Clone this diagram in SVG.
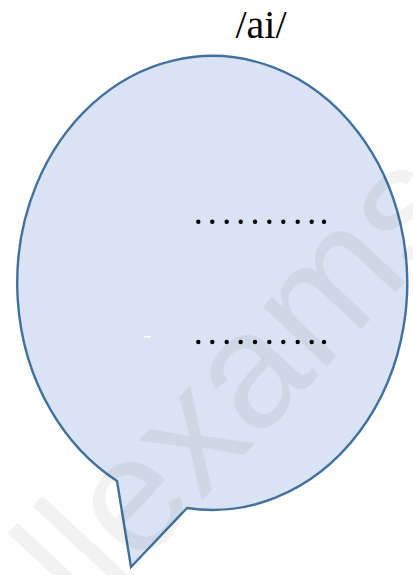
<svg xmlns="http://www.w3.org/2000/svg" width="413" height="575" viewBox="0 0 413 575">
<style>
.bubble{fill:#DAE3F3;stroke:#41719C;stroke-width:2.4;stroke-linejoin:miter}
.dot{fill:#000}
.title{font-family:"Liberation Serif","Times New Roman",serif;font-size:40px;fill:#000}
.wm{font-family:"Liberation Sans",Arial,sans-serif;font-size:165px;fill:#000;fill-opacity:0.05}
</style>
<rect width="413" height="575" fill="#fff"/>
<g id="title"><text class="title" x="261" y="38" text-anchor="middle">/ai/</text></g>
<g id="bubble">
<path class="bubble" d="M117,481 L131,567 L187,508 A195,227 0 1 0 117,481 Z"/>
</g>
<g id="dots-top">
<circle class="dot" cx="198.3" cy="221.7" r="2.2"/>
<circle class="dot" cx="212.3" cy="221.7" r="2.2"/>
<circle class="dot" cx="226.7" cy="221.7" r="2.2"/>
<circle class="dot" cx="240.7" cy="221.7" r="2.2"/>
<circle class="dot" cx="255" cy="221.7" r="2.2"/>
<circle class="dot" cx="269.3" cy="221.7" r="2.2"/>
<circle class="dot" cx="283.3" cy="221.7" r="2.2"/>
<circle class="dot" cx="297.7" cy="221.7" r="2.2"/>
<circle class="dot" cx="311.7" cy="221.7" r="2.2"/>
<circle class="dot" cx="324" cy="221.7" r="2.2"/>
</g>
<g id="dots-bottom">
<circle class="dot" cx="198.3" cy="342" r="2.2"/>
<circle class="dot" cx="212.3" cy="342" r="2.2"/>
<circle class="dot" cx="226.7" cy="342" r="2.2"/>
<circle class="dot" cx="240.7" cy="342" r="2.2"/>
<circle class="dot" cx="255" cy="342" r="2.2"/>
<circle class="dot" cx="269.3" cy="342" r="2.2"/>
<circle class="dot" cx="283.3" cy="342" r="2.2"/>
<circle class="dot" cx="297.7" cy="342" r="2.2"/>
<circle class="dot" cx="311.7" cy="342" r="2.2"/>
<circle class="dot" cx="324" cy="342" r="2.2"/>
</g>
<rect x="144" y="336" width="7" height="1.5" fill="#fff"/>
<g id="watermark"><text class="wm" x="25" y="690" transform="rotate(-47 25 690)">allexams</text></g>
</svg>
